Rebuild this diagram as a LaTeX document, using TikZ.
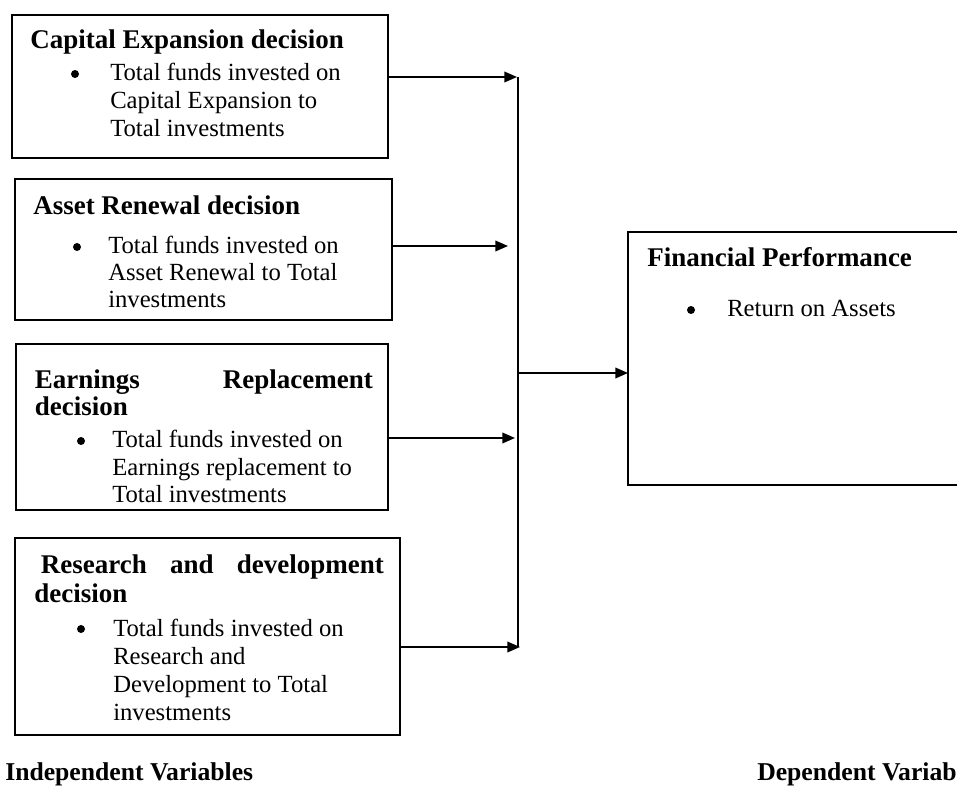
\documentclass[tikz,border=0pt]{standalone}
\usepackage{fontspec}
\setmainfont{Liberation Serif}
\usetikzlibrary{arrows.meta}
\tikzset{
  box/.style={draw=black, line width=1.5pt, rectangle, inner sep=0pt, outer sep=0pt},
  ttl/.style={anchor=base west, inner sep=0pt, font=\fontsize{20.25}{24}\selectfont\bfseries},
  bodytxt/.style={anchor=base west, inner sep=0pt, font=\fontsize{18.5}{22}\selectfont},
  foot/.style={anchor=base west, inner sep=0pt, font=\fontsize{19.25}{22}\selectfont\bfseries},
  bul/.style={circle, fill=black, inner sep=0pt, minimum size=6pt},
  conn/.style={draw=black, line width=1.2pt},
  arr/.style={conn, -{Triangle[length=9.5pt,width=8pt]}}
}
\begin{document}
\begin{tikzpicture}[x=0.75pt,y=-0.75pt]
\useasboundingbox (0,0) rectangle (957,798);
\clip (0,0) rectangle (957,798);

% boxes
\node[box, minimum width=282.375pt, minimum height=107.25pt] (b1) at (199.75,86.5) {};
\node[box, minimum width=282.75pt, minimum height=105.75pt] (b2) at (203.5,249.5) {};
\node[box, minimum width=279.375pt, minimum height=124.125pt] (b3) at (201.75,427.25) {};
\node[box, minimum width=288.75pt, minimum height=147.75pt] (b4) at (207.5,636.5) {};
\node[box, minimum width=300pt, minimum height=189.75pt] (fp) at (828,358.5) {};

% box 1 text
\node[ttl] (t1) at (30,49) {Capital Expansion decision};
\node[bul] (u1) at (75,74) {};
\node[bodytxt] (l11) at (110,81) {Total funds invested on};
\node[bodytxt] (l12) at (110,109) {Capital Expansion to};
\node[bodytxt] (l13) at (110,137) {Total investments};

% box 2 text
\node[ttl] (t2) at (33,215) {Asset Renewal decision};
\node[bul] (u2) at (77,247) {};
\node[bodytxt] (l21) at (108,254) {Total funds invested on};
\node[bodytxt] (l22) at (108,281) {Asset Renewal to Total};
\node[bodytxt] (l23) at (108,308) {investments};

% box 3 text
\node[ttl] (t3) at (34.6,389) {\makebox[253.5pt][s]{Earnings Replacement}};
\node[ttl] (t3b) at (34.6,416) {decision};
\node[bul] (u3) at (81,441) {};
\node[bodytxt] (l31) at (112,448) {Total funds invested on};
\node[bodytxt] (l32) at (112,476) {Earnings replacement to};
\node[bodytxt] (l33) at (112,503) {Total investments};

% box 4 text
\node[ttl] (t4) at (40.7,573) {\makebox[257.25pt][s]{Research and development}};
\node[ttl] (t4b) at (34,602) {decision};
\node[bul] (u4) at (81,629) {};
\node[bodytxt] (l41) at (113,636) {Total funds invested on};
\node[bodytxt] (l42) at (113,664) {Research and};
\node[bodytxt] (l43) at (113,692) {Development to Total};
\node[bodytxt] (l44) at (113,720) {investments};

% dependent box text
\node[ttl] (t5) at (647,267) {Financial Performance};
\node[bul] (u5) at (691,310) {};
\node[bodytxt] (l51) at (727,317) {Return on Assets};

% footers
\node[foot] (ind) at (5,780) {Independent Variables};
\node[foot] (dep) at (757,780) {Dependent Variables};

% connectors
\coordinate (p1) at (517,77);
\coordinate (p2) at (508,246);
\coordinate (p3) at (515,438);
\coordinate (p4) at (520,647);
\coordinate (bt) at (518,77);
\coordinate (bb) at (518,647);
\coordinate (bm) at (518,373);

\draw[arr] (p1 -| b1.east) -- (p1);
\draw[arr] (p2 -| b2.east) -- (p2);
\draw[arr] ([xshift=-1pt]p3 -| b3.east) -- (p3);
\draw[arr] (p4 -| b4.east) -- (p4);
\draw[conn] (bt) -- (bb);
\draw[arr] (bm) -- (bm -| fp.west);
\end{tikzpicture}
\end{document}
